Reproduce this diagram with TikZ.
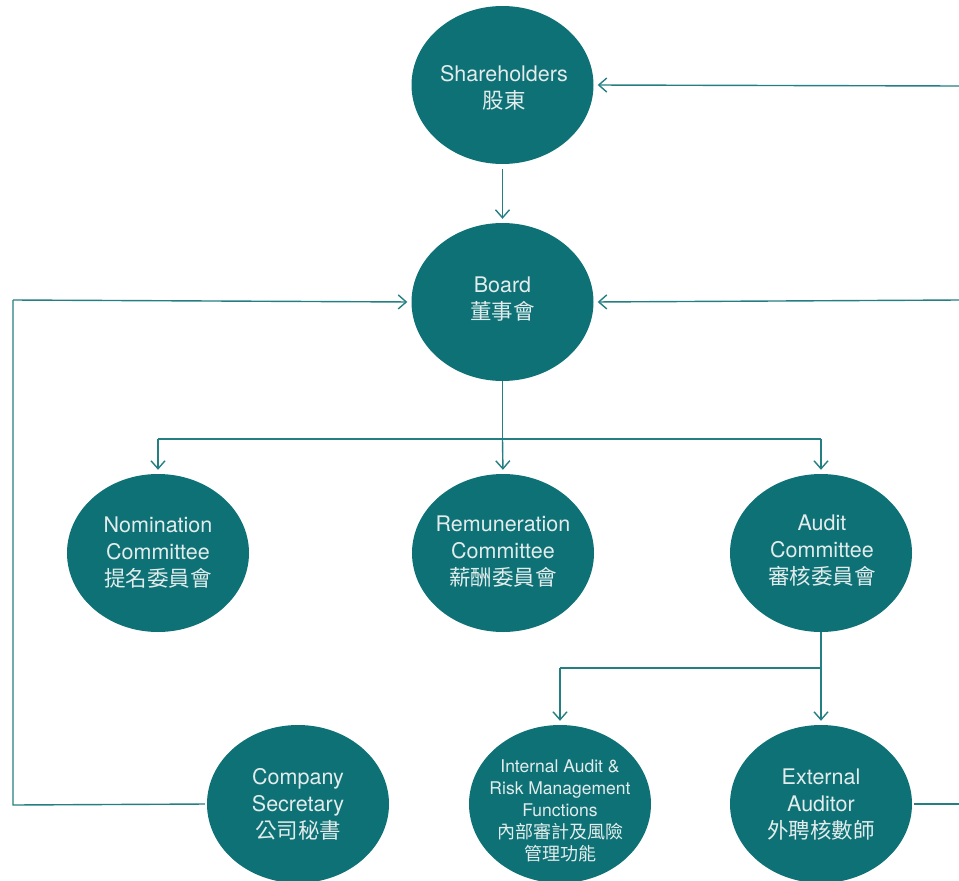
\documentclass[tikz,border=0pt]{standalone}
\usepackage{fontspec}
\setmainfont{TeX Gyre Heros}
\newfontfamily\cjk{Noto Sans CJK TC}
\usepackage{tikz}
\usetikzlibrary{shapes.geometric}
\usetikzlibrary{arrows.meta}

\definecolor{teal}{RGB}{14,113,117}
\definecolor{linkcol}{RGB}{36,127,131}
\definecolor{txtcol}{RGB}{226,236,236}

\begin{document}
\begin{tikzpicture}[x=1pt,y=-1pt,
   unit/.style={
      ellipse,
      fill = teal,
      inner sep = 0pt,
      minimum width = 182pt,
      minimum height = 158pt
   },
   label/.style={
      text = txtcol,
      align = center,
      font = \fontsize{21.5}{27}\selectfont
   },
   small label/.style={
      label,
      font = \fontsize{17.5}{22}\selectfont
   },
   link/.style={
      draw = linkcol,
      line width = 1.4pt
   },
   tip/.style={
      link,
      -{Straight Barb[length=8pt,width=14pt,line width=1.4pt]},
      shorten > = 4pt
   }
]
   \useasboundingbox (0,0) rectangle (959,881);

   % the bodies
   \node[unit] (sh) at (502.5,85) {};
   \node[unit] (board) at (502.5,302) {};
   \node[unit] (nom) at (158,553) {};
   \node[unit] (rem) at (503,553) {};
   \node[unit] (aud) at (821,553) {};
   \node[unit] (sec) at (298,804) {};
   \node[unit] (ia) at (560,804) {};
   \node[unit] (ext) at (821,804) {};

   % their texts
   \node[label] (sh text) at (504,88) {Shareholders\\\cjk 股東};
   \node[label] (board text) at (502.5,299) {Board\\\cjk 董事會};
   \node[label] (nom text) at (158,553) {Nomination\\Committee\\\cjk 提名委員會};
   \node[label] (rem text) at (503,552) {Remuneration\\Committee\\\cjk 薪酬委員會};
   \node[label] (aud text) at (822,551) {Audit\\Committee\\\cjk 審核委員會};
   \node[label] (sec text) at (298,804) {Company\\Secretary\\\cjk 公司秘書};
   \node[small label] (ia text) at (560,811) {Internal Audit \&\\Risk Management\\Functions\\{\cjk\fontsize{18}{22}\selectfont 內部審計及風險}\\{\cjk\fontsize{18}{22}\selectfont 管理功能}};
   \node[label] (ext text) at (821,805) {External\\Auditor\\\cjk 外聘核數師};

   % loose ends at the edges
   \coordinate (in top) at (959,86);
   \coordinate (in mid) at (959,300);
   \coordinate (out low) at (959,804);
   \coordinate (left turn) at (13,805);
   \coordinate (left up) at (13,300);
   \coordinate (board fork) at (502.5,439);
   \coordinate (aud fork) at (821,668);

   \draw[tip] (in top) -- (sh.east);
   \draw[tip] (in mid) -- (board.east);
   \draw[tip, shorten < = 5pt] (sh.south) -- (board.north);

   \draw[link, shorten < = 2pt] (sec.west) -- (left turn) -- (left up);
   \draw[tip] (left up) -- (board.west);

   \draw[link] (board.south) -- (board fork);
   \draw[link] (nom.north |- board fork) -- (aud.north |- board fork);
   \draw[tip] (nom.north |- board fork) -- (nom.north);
   \draw[tip] (board fork) -- (rem.north);
   \draw[tip] (aud.north |- board fork) -- (aud.north);

   \draw[link] (aud.south) -- (aud fork);
   \draw[link] (aud fork) -- (ia.north |- aud fork);
   \draw[tip] (ia.north |- aud fork) -- (ia.north);
   \draw[tip] (aud fork) -- (ext.north);

   \draw[link, shorten < = 2pt] (ext.east) -- (out low);
\end{tikzpicture}
\end{document}
